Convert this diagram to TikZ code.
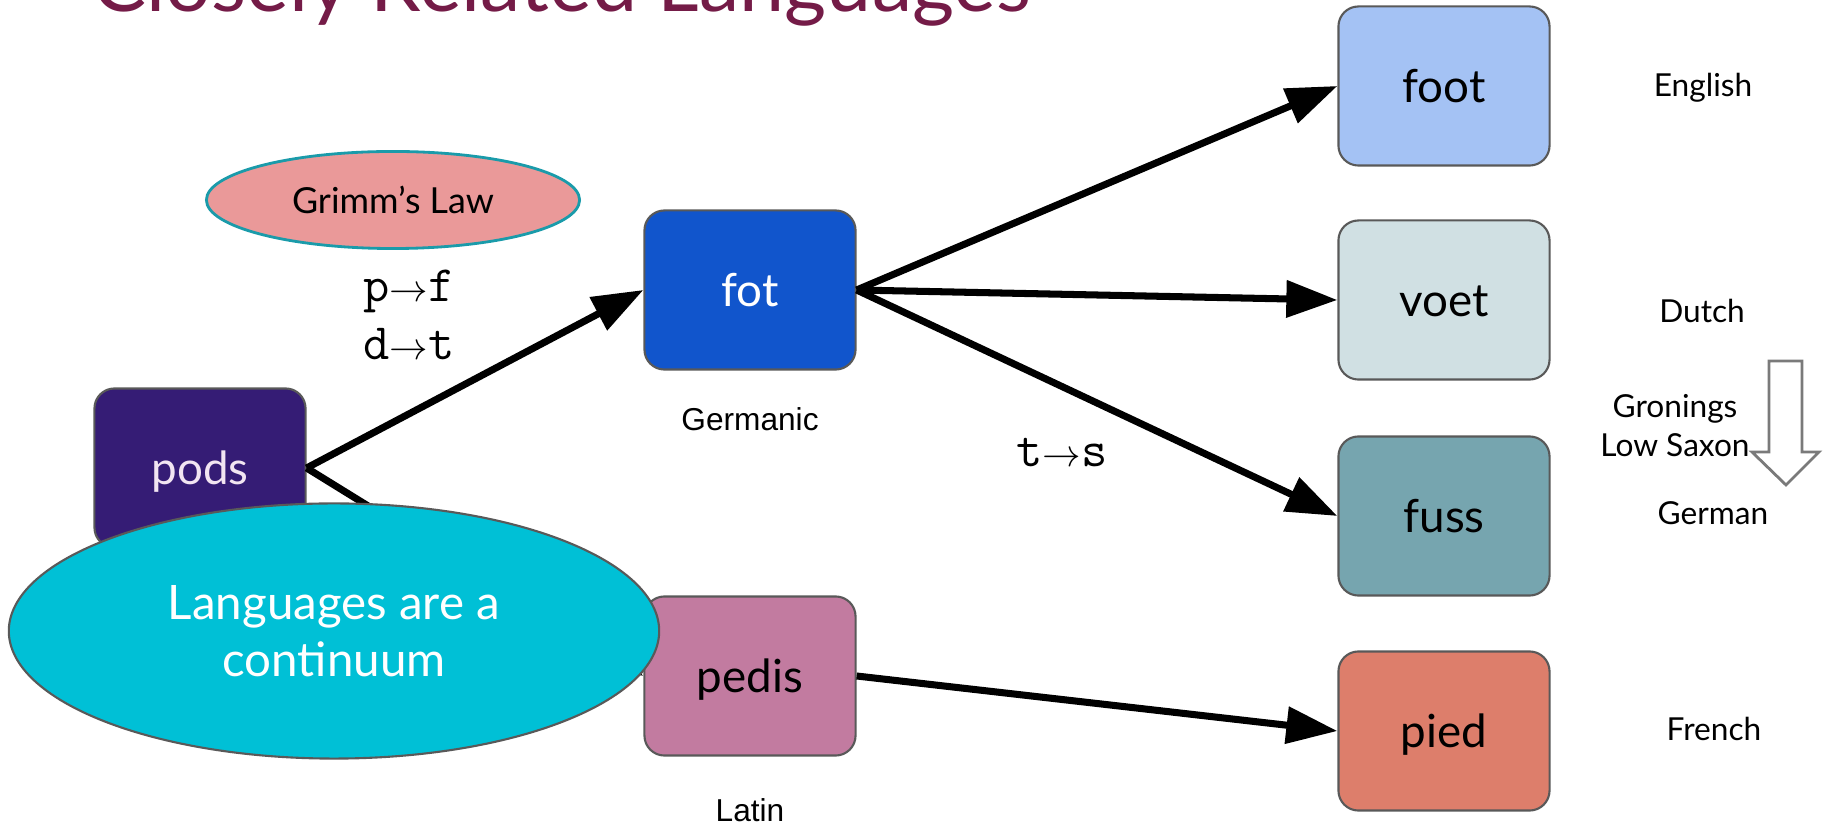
\documentclass[tikz,border=0pt]{standalone}
\usepackage{fontspec}
\setmainfont{Lato}
\newfontfamily\arialfont{Liberation Sans}
\usetikzlibrary{shapes,arrows,arrows.meta,positioning}

\definecolor{titlecol}{HTML}{741B47}
\definecolor{boxline}{HTML}{595959}
\definecolor{podsfill}{HTML}{351C75}
\definecolor{fotfill}{HTML}{1155CC}
\definecolor{pedisfill}{HTML}{C27BA0}
\definecolor{footfill}{HTML}{A4C2F4}
\definecolor{voetfill}{HTML}{D0E0E3}
\definecolor{fussfill}{HTML}{76A5AF}
\definecolor{piedfill}{HTML}{DD7E6B}
\definecolor{grimmfill}{HTML}{EA9999}
\definecolor{grimmline}{HTML}{1A9BAA}
\definecolor{contfill}{HTML}{00C0D6}

% sound change arrow, thin like in the slide
\newcommand{\chg}{{\fontsize{11}{13}\selectfont$\rightarrow$}}

\begin{document}
\begin{tikzpicture}[
    x=0.01cm, y=-0.01cm,
    word/.style={
        rectangle,
        rounded corners=0.2cm,
        draw=boxline,
        line width=0.6pt,
        minimum width=2.11cm,
        minimum height=1.59cm,
        text height=0.42cm,
        text depth=0.1cm,
        font=\fontsize{13}{15}\selectfont
    },
    lang/.style={anchor=base, inner sep=0pt, font=\fontsize{9}{11}\selectfont},
    family/.style={anchor=base, inner sep=0pt, font=\arialfont\fontsize{9}{11}\selectfont},
    soundrule/.style={anchor=base, inner sep=0pt, font=\ttfamily\fontsize{14.5}{17}\selectfont},
    conn/.style={-{Triangle[length=0.51cm,width=0.36cm]}, line width=2pt}
]
    \useasboundingbox (0,0) rectangle (1823,828);

    % Title (cut off at the top)
    \node[anchor=base west, inner sep=0pt, text=titlecol,
        font=\fontsize{23}{27}\selectfont] (title) at (92,12) {Closely Related Languages};

    % Word boxes
    \node[word, fill=podsfill, text=white!90!violet] (pods) at (200,468) {pods};
    \node[word, fill=fotfill, text=white] (fot) at (750,290) {fot};
    \node[word, fill=pedisfill] (pedis) at (750,676) {pedis};
    \node[word, fill=footfill] (foot) at (1444,86) {foot};
    \node[word, fill=voetfill] (voet) at (1444,300) {voet};
    \node[word, fill=fussfill] (fuss) at (1444,516) {fuss};
    \node[word, fill=piedfill] (pied) at (1444,731) {pied};

    % Family labels under the middle boxes
    \node[family] (germanic) at (750,431) {Germanic};
    \node[family] (latin) at (750,822) {Latin};

    % Language names on the right
    \node[lang] (english) at (1703,97) {English};
    \node[lang] (dutch) at (1702,323) {Dutch};
    \node[lang, align=center, font=\fontsize{9}{11.1}\selectfont] (gronings) at (1675,457) {Gronings\\Low Saxon};
    \node[lang] (german) at (1713,525) {German};
    \node[lang] (french) at (1714,741) {French};

    % Hollow arrow from Dutch down to German
    \draw[boxline!80, line width=0.8pt, line join=miter]
        (1769,361) -- (1802,361) -- (1802,452) -- (1819,452)
        -- (1786,485) -- (1752,452) -- (1769,452) -- cycle;

    % Sound changes
    \node[ellipse, draw=grimmline, line width=0.8pt, fill=grimmfill, inner sep=0pt,
        minimum width=3.73cm, minimum height=0.97cm,
        font=\fontsize{10.2}{12}\selectfont] (grimm) at (393,200) {Grimm’s Law};
    \node[soundrule] (pf) at (409,302) {p\chg f};
    \node[soundrule] (dt) at (409,360) {d\chg t};
    \node[soundrule] (ts) at (1062,467) {t\chg s};

    % Connections
    \draw[conn] (pods.east) -- (fot.west);
    \draw[conn] (pods.east) -- (pedis.west);
    \draw[conn] (fot.east) -- (foot.west);
    \draw[conn] (fot.east) -- (voet.west);
    \draw[conn] (fot.east) -- (fuss.west);
    \draw[conn] (pedis.east) -- (pied.west);

    % Big ellipse on top
    \node[ellipse, draw=boxline, line width=0.6pt, fill=contfill, inner sep=0pt,
        minimum width=6.5cm, minimum height=2.55cm, align=center, text=white,
        font=\fontsize{13.5}{16.2}\selectfont] (continuum) at (334,631) {Languages are a\\continuum};

\end{tikzpicture}
\end{document}
